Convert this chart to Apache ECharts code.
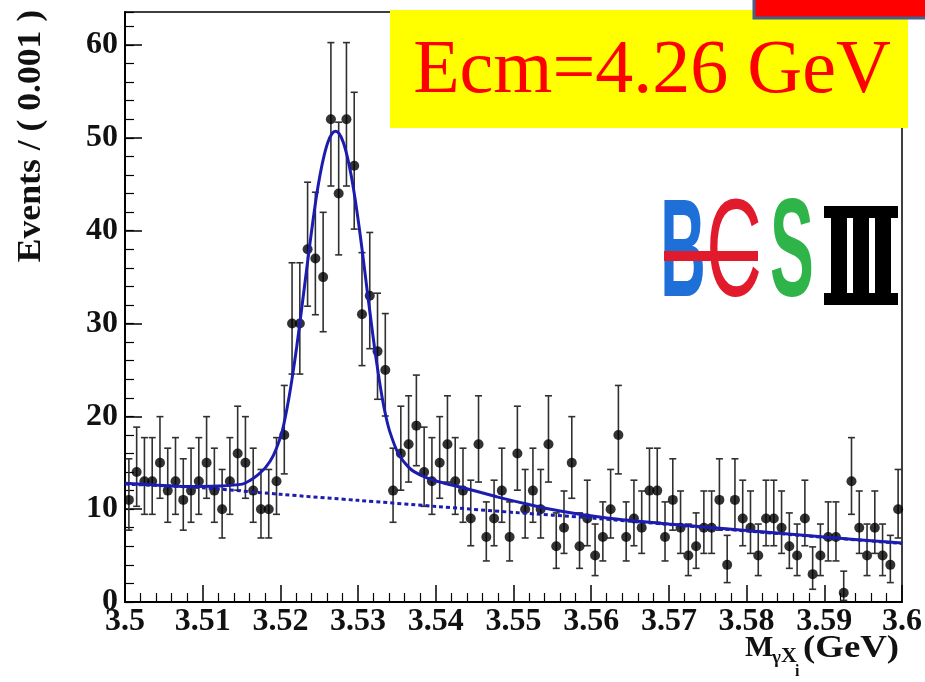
<!DOCTYPE html>
<html><head><meta charset="utf-8">
<script src="https://cdn.jsdelivr.net/npm/echarts@6/dist/echarts.min.js"></script>
<style>html,body{margin:0;padding:0;background:#fff;}#c{width:925px;height:682px;}</style>
</head><body><div id="c"></div>
<script>
// ---- data ----
const binLow = 3.5;
const binWidth = 0.001;
const counts = [11,14,13,13,15,12,13,11,12,13,
                15,12,10,13,16,15,12,10,10,13,
                18,30,30,38,37,35,52,44,52,47,
                31,33,27,25,12,16,17,19,14,13,
                15,17,13,12,9,17,7,9,12,7,
                16,10,12,10,17,6,8,15,6,9,
                5,7,10,18,7,9,8,12,12,7,
                11,8,5,6,8,8,11,4,11,9,
                8,5,9,9,8,6,5,9,3,5,
                7,7,1,13,8,5,8,5,4,10];
const fitX = [3.5000,3.5040,3.5080,3.5120,3.5151,3.5161,3.5171,3.5181,3.5191,3.5201,
              3.5206,3.5211,3.5216,3.5221,3.5226,3.5231,3.5236,3.5241,3.5246,3.5251,
              3.5256,3.5261,3.5266,3.5271,3.5276,3.5281,3.5286,3.5291,3.5296,3.5301,
              3.5306,3.5311,3.5316,3.5321,3.5326,3.5331,3.5336,3.5341,3.5351,3.5361,
              3.5371,3.5391,3.5411,3.5440,3.5480,3.5520,3.5560,3.5620,3.5700,3.5800,
              3.5900,3.6000];
const fitY = [12.8,12.6,12.45,12.5,12.7,13.1,13.7,14.5,15.8,18.0,
              19.8,22.0,24.6,27.5,30.7,34.0,37.3,40.5,43.5,46.0,
              48.0,49.5,50.4,50.7,50.4,49.5,48.0,46.0,43.5,40.6,
              37.4,34.0,30.7,27.5,24.6,22.0,19.9,18.3,16.1,14.9,
              14.1,13.3,12.8,12.2,11.3,10.5,9.8,9.05,8.4,7.7,
              7.0,6.35];
const bkgX = [3.50,3.51,3.52,3.53,3.54,3.55,3.56,3.57,3.58,3.59,3.60];
const bkgY = [12.7,12.3,11.6,10.95,10.3,9.65,9.05,8.35,7.65,6.97,6.3];
const xTickLabels = ['3.5','3.51','3.52','3.53','3.54','3.55','3.56','3.57','3.58','3.59','3.6'];
const yTickLabels = ['0','10','20','30','40','50','60'];
const yTitle = 'Events / ( 0.001 )';
const boxText = 'Ecm=4.26 GeV';

// ---- derived ----
const centers = counts.map((n, i) => +(binLow + binWidth * (i + 0.5)).toFixed(4));
const points = counts.map((n, i) => [centers[i], n]);
// Poisson (Gehrels) error intervals from the counts
const errs = counts.map((n, i) => {
  const lo = n > 0 ? n * Math.pow(1 - 1 / (9 * n) - 1 / (3 * Math.sqrt(n)), 3) : 0;
  const hi = n + 1 + Math.sqrt(n + 0.75);
  return [centers[i], lo, hi];
});
const fitData = fitX.map((x, i) => [x, fitY[i]]);
const bkgData = bkgX.map((x, i) => [x, bkgY[i]]);

const serif = '"Liberation Serif","Times New Roman",serif';
const sans = '"Liberation Sans",Arial,sans-serif';
const chart = echarts.init(document.getElementById('c'), null, {renderer: 'canvas'});
const blue = '#1c1cb0';

const option = {
  animation: false,
  backgroundColor: '#ffffff',
  grid: {left: 125, right: 23, top: 12, bottom: 80, show: true, borderColor: '#000', borderWidth: 1.5, backgroundColor: 'transparent'},
  xAxis: {
    type: 'value', min: 3.5, max: 3.6, interval: 0.01,
    axisLine: {show: true, lineStyle: {color: '#000', width: 2}},
    axisTick: {show: true, inside: true, length: 17, lineStyle: {color: '#000', width: 1.5}},
    minorTick: {show: true, splitNumber: 5, length: 9, lineStyle: {color: '#000', width: 1.2}},
    splitLine: {show: false},
    axisLabel: {
      margin: 4, color: '#111', fontFamily: serif, fontWeight: 'bold', fontSize: 32,
      formatter: v => xTickLabels[Math.round((v - 3.5) / 0.01)] || ''
    }
  },
  yAxis: [{
    type: 'value', min: 0, max: 63.56, interval: 10,
    axisLine: {show: true, lineStyle: {color: '#000', width: 2}},
    axisTick: {show: true, inside: true, length: 17, lineStyle: {color: '#000', width: 1.5}},
    splitLine: {show: false},
    axisLabel: {
      margin: 7, color: '#111', fontFamily: serif, fontWeight: 'bold', fontSize: 32, showMaxLabel: false,
      formatter: v => { const k = Math.round(v / 10); return (Math.abs(v - k * 10) < 1e-6 && yTickLabels[k]) ? yTickLabels[k] : ''; }
    }
  }, {
    type: 'value', min: 0, max: 63.56, interval: 2, position: 'left',
    axisLine: {show: false},
    axisTick: {show: true, inside: true, length: 9, lineStyle: {color: '#000', width: 1.2}},
    splitLine: {show: false},
    axisLabel: {show: false}
  }],
  series: [
    {
      type: 'custom', name: 'errors', data: errs, z: 2, clip: false,
      encode: {x: 0, y: [1, 2]},
      renderItem: (params, api) => {
        const x = api.value(0), lo = api.value(1), hi = api.value(2);
        const a = api.coord([x, lo]), b = api.coord([x, hi]);
        const w = 3.5;
        const st = {stroke: '#303030', lineWidth: 1.6};
        return {type: 'group', children: [
          {type: 'line', shape: {x1: a[0], y1: a[1], x2: b[0], y2: b[1]}, style: st},
          {type: 'line', shape: {x1: b[0] - w, y1: b[1], x2: b[0] + w, y2: b[1]}, style: st},
          {type: 'line', shape: {x1: a[0] - w, y1: a[1], x2: a[0] + w, y2: a[1]}, style: st}
        ]};
      }
    },
    {type: 'scatter', name: 'data', data: points, symbol: 'circle', symbolSize: 10, itemStyle: {color: '#000'}, z: 3},
    {type: 'line', name: 'background', data: bkgData, showSymbol: false, smooth: 0.3,
     lineStyle: {color: blue, width: 3, type: [4, 3]}, z: 4},
    {type: 'line', name: 'fit', data: fitData, showSymbol: false, smooth: 0.3,
     lineStyle: {color: blue, width: 3}, z: 5}
  ],
  graphic: [
    {type: 'text', x: 31, y: 136, rotation: Math.PI / 2, scaleX: 1.08, z: 10,
     style: {text: yTitle, font: 'bold 33px ' + serif, fill: '#111', align: 'center', verticalAlign: 'middle'}},
    {type: 'text', x: 745, y: 648, z: 10, style: {text: 'M', font: 'bold 30px ' + serif, fill: '#111', align: 'left', verticalAlign: 'middle'}},
    {type: 'text', x: 772, y: 658, z: 10, style: {text: 'γ', font: 'bold 19px ' + serif, fill: '#111', align: 'left', verticalAlign: 'middle'}},
    {type: 'text', x: 781, y: 656, z: 10, style: {text: 'X', font: 'bold 22px ' + serif, fill: '#111', align: 'left', verticalAlign: 'middle'}},
    {type: 'text', x: 795, y: 672, z: 10, style: {text: 'i', font: 'bold 16px ' + serif, fill: '#111', align: 'left', verticalAlign: 'middle'}},
    {type: 'text', x: 803, y: 649, scaleX: 1.15, z: 10, style: {text: '(GeV)', font: 'bold 32px ' + serif, fill: '#111', align: 'left', verticalAlign: 'middle'}},
    // yellow label box
    {type: 'rect', z: 20, shape: {x: 390, y: 10, width: 518, height: 118}, style: {fill: '#ffff00'}},
    {type: 'text', z: 21, x: 652, y: 72, style: {text: boxText, font: '76px ' + serif, fill: '#ff0000', align: 'center', verticalAlign: 'middle'}},
    // top right red tab
    {type: 'rect', z: 22, shape: {x: 754, y: -6, width: 190, height: 24}, style: {fill: '#ff0000', stroke: '#41618f', lineWidth: 3}},
    // BESIII logo
    {type: 'text', z: 21, x: 683, y: 257, scaleX: 0.45, style: {text: 'B', font: 'bold 140px ' + sans, fill: '#1f6fd8', align: 'center', verticalAlign: 'middle'}},
    {type: 'text', z: 21, x: 734, y: 257, scaleX: 0.55, style: {text: 'C', font: '140px ' + sans, fill: '#e11b2b', align: 'center', verticalAlign: 'middle'}},
    {type: 'rect', z: 22, shape: {x: 664, y: 251, width: 94, height: 10}, style: {fill: '#e11b2b'}},
    {type: 'text', z: 21, x: 792, y: 257, scaleX: 0.47, style: {text: 'S', font: 'bold 140px ' + sans, fill: '#2fb44a', align: 'center', verticalAlign: 'middle'}},
    {type: 'rect', z: 21, shape: {x: 824, y: 206, width: 74, height: 12}, style: {fill: '#000'}},
    {type: 'rect', z: 21, shape: {x: 824, y: 293, width: 74, height: 12}, style: {fill: '#000'}},
    {type: 'rect', z: 21, shape: {x: 831, y: 206, width: 16, height: 99}, style: {fill: '#000'}},
    {type: 'rect', z: 21, shape: {x: 853, y: 206, width: 16, height: 99}, style: {fill: '#000'}},
    {type: 'rect', z: 21, shape: {x: 875, y: 206, width: 16, height: 99}, style: {fill: '#000'}}
  ]
};
chart.setOption(option);
</script></body></html>
